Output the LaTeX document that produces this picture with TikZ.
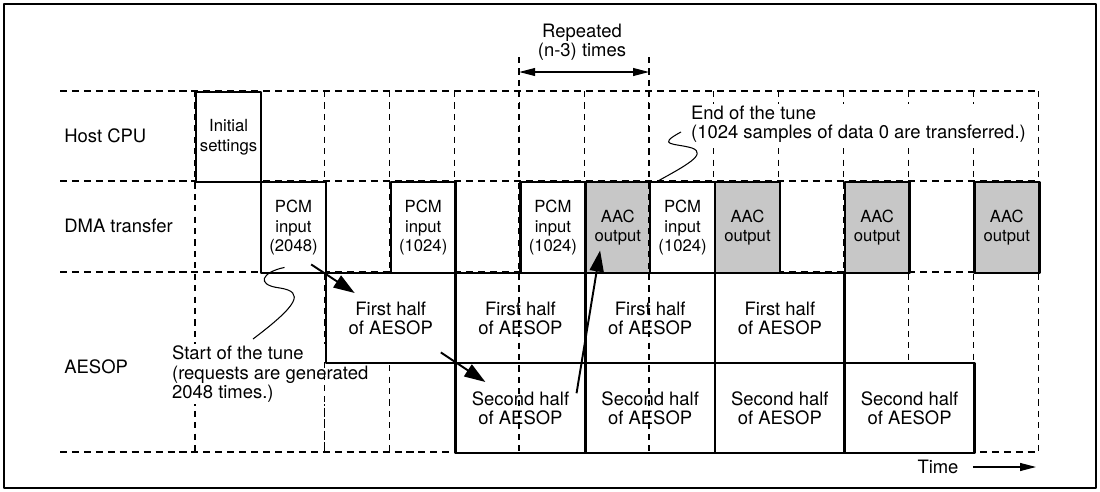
\documentclass[tikz,border=0pt]{standalone}
\usepackage{fontspec}
\setmainfont{TeX Gyre Heros}
\usetikzlibrary{arrows.meta}

\tikzset{
	rowline/.style={line width=1.2pt, dash pattern=on 4pt off 2.8pt},
	gridline/.style={line width=0.6pt, dash pattern=on 3.5pt off 3pt},
	repline/.style={line width=1.4pt, dash pattern=on 3.5pt off 3pt},
	blk/.style={draw, line width=1.4pt, fill=white, inner sep=0pt, anchor=north west, align=center},
	smallblk/.style={blk, minimum width=1.297cm, minimum height=1.82cm, font=\fontsize{9.5}{11}\selectfont},
	aacblk/.style={smallblk, fill=black!22},
	halfblk/.style={blk, minimum width=2.594cm, minimum height=1.8cm, font=\fontsize{10.5}{11}\selectfont},
	lbl/.style={anchor=west, inner sep=0pt, font=\fontsize{10.5}{11}\selectfont},
	note/.style={anchor=north west, align=left, fill=white, inner sep=1pt, font=\fontsize{10.5}{11}\selectfont},
	arr/.style={line width=1.1pt, -{Triangle[length=12pt,width=8pt]}},
	thinarr/.style={line width=0.6pt, -{Triangle[length=9pt,width=4.5pt]}},
	leader/.style={line width=0.6pt},
}

\begin{document}
\begin{tikzpicture}[
	x=0.02cm, y=-0.02cm, line join=round,
	declare function={c(\i) = 195 + 64.85*\i;}
	]
	\useasboundingbox (0,0) rectangle (1100,491);
	
	% 1. FRAME AND GRID
	\draw[line width=1.5pt] (4,4) rectangle (1096,488);
	\foreach \y in {91,181,272,452}
		\draw[rowline] (60,\y) -- (1038,\y);
	\foreach \i in {0,2,3,...,13}
		\draw[gridline] ({c(\i)},91) -- ({c(\i)},452);
	
	% notes under the boxes
	\node[note] (startnote) at (170,344) {Start of the tune\\(requests are generated\\2048 times.)};
	\draw[gridline] ({c(2)},362) -- ({c(2)},452);
	
	% 2. HOST CPU AND DMA TRANSFER
	\node[smallblk, minimum height=1.8cm] (init) at ({c(0)},91) {Initial\\settings};
	
	\node[smallblk] (pcmA) at ({c(1)},181) {PCM\\input\\(2048)};
	\node[smallblk] (pcmB) at ({c(3)},181) {PCM\\input\\(1024)};
	\node[smallblk] (pcmC) at ({c(5)},181) {PCM\\input\\(1024)};
	\node[aacblk] (aacA) at ({c(6)},181) {AAC\\output};
	\node[smallblk] (pcmD) at ({c(7)},181) {PCM\\input\\(1024)};
	\node[aacblk] (aacB) at ({c(8)},181) {AAC\\output};
	\node[aacblk] (aacC) at ({c(10)},181) {AAC\\output};
	\node[aacblk] (aacD) at ({c(12)},181) {AAC\\output};
	
	% 3. AESOP
	\node[halfblk] (firstA) at ({c(2)},272) {First half\\of AESOP};
	\node[halfblk] (firstB) at ({c(4)},272) {First half\\of AESOP};
	\node[halfblk] (firstC) at ({c(6)},272) {First half\\of AESOP};
	\node[halfblk] (firstD) at ({c(8)},272) {First half\\of AESOP};
	
	\node[halfblk] (secondA) at ({c(4)},362) {Second half\\of AESOP};
	\node[halfblk] (secondB) at ({c(6)},362) {Second half\\of AESOP};
	\node[halfblk] (secondC) at ({c(8)},362) {Second half\\of AESOP};
	\node[halfblk] (secondD) at ({c(10)},362) {Second half\\of AESOP};
	
	% 4. REPEATED PART
	\draw[repline] ({c(5)},57) -- ({c(5)},452);
	\draw[repline] ({c(7)},57) -- ({c(7)},452);
	\coordinate (repL) at ({c(5)},72);
	\coordinate (repR) at ({c(7)},72);
	\draw[line width=0.6pt, {Triangle[length=9pt,width=4.5pt]}-{Triangle[length=9pt,width=4.5pt]}] (repL) -- (repR);
	\node[align=center, inner sep=0pt, font=\fontsize{10.5}{11}\selectfont] (rep) at (582,42) {Repeated\\(n-3) times};
	
	% 5. LABELS AND NOTES
	\node[lbl] (hostlbl) at (64,136) {Host CPU};
	\node[lbl] (dmalbl) at (64,226) {DMA transfer};
	\node[lbl] (aesoplbl) at (64,367) {AESOP};
	
	\node[note] (endnote) at (689,104) {End of the tune\\(1024 samples of data 0 are transferred.)};
	
	\coordinate (tuneA) at (253,339);
	\coordinate (tuneB) at (681,132);
	\draw[leader] ([shift={(-9,-7)}]pcmA.south) .. controls (262,272) and (255,285) .. (280,288)
		.. controls (305,292) and (298,305) .. (tuneA);
	\draw[leader] ([shift={(9,0)}]pcmD.north west) .. controls (685,166) and (708,154) .. (692,148)
		.. controls (675,143) and (655,146) .. (tuneB);
	
	% 6. ARROWS
	\draw[arr] ([shift={(-16,-10)}]pcmA.south east) -- ([shift={(30,21)}]firstA.north west);
	\draw[arr] ([shift={(-16,-12)}]firstA.south east) -- ([shift={(31,20)}]secondA.north west);
	\draw[arr] ([shift={(-10,-15)}]secondA.east) -- ([shift={(16,-24)}]aacA.south west);
	
	\node[lbl, anchor=center] (time) at (938,467) {Time};
	\coordinate (timeend) at (1036,467);
	\draw[thinarr, shorten <=8pt] (time.east) -- (timeend);
	
\end{tikzpicture}
\end{document}
